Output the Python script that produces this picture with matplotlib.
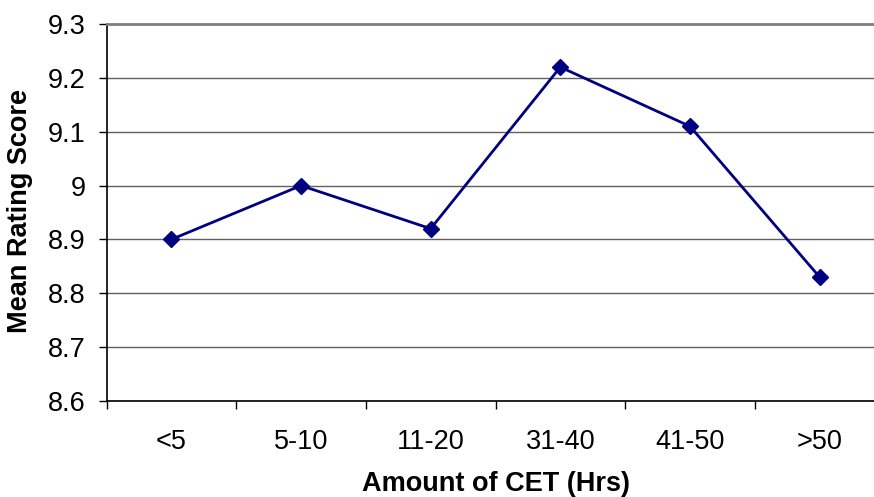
import matplotlib
matplotlib.use("Agg")
import matplotlib.pyplot as plt
import numpy as np

plt.rcParams["font.family"] = ["Liberation Sans", "DejaVu Sans"]

# ── Data ──────────────────────────────────────────────────────────────────────
categories = ["<5", "5-10", "11-20", "31-40", "41-50", ">50"]
scores = [8.90, 9.00, 8.92, 9.22, 9.11, 8.83]
y_ticks = [8.6, 8.7, 8.8, 8.9, 9.0, 9.1, 9.2, 9.3]
y_labels = ["8.6", "8.7", "8.8", "8.9", "9", "9.1", "9.2", "9.3"]

LINE_COLOR = "#000080"
GRID_COLOR = "#606060"

# ── Plot ──────────────────────────────────────────────────────────────────────
fig = plt.figure(figsize=(8.74, 4.97), dpi=100)
# plot area runs past the right edge of the picture, as in the original
ax = fig.add_axes([106.5 / 874, 96 / 497, 778 / 874, 377 / 497])

x = np.arange(len(categories))
ax.plot(x, scores, color=LINE_COLOR, lw=2.0, marker="D", ms=8.5,
        mfc=LINE_COLOR, mec=LINE_COLOR, zorder=3, clip_on=False)

ax.set_xlim(-0.5, len(categories) - 0.5)
ax.set_ylim(8.6, 9.3)

ax.set_yticks(y_ticks)
ax.set_yticklabels(y_labels)
ax.yaxis.grid(True, color=GRID_COLOR, lw=1.0)
ax.set_axisbelow(True)

# category boundaries get the tick marks, names sit in between
ax.set_xticks(np.arange(len(categories) + 1) - 0.5)
ax.set_xticklabels([])
ax.set_xticks(x, minor=True)
ax.set_xticklabels(categories, minor=True)
ax.tick_params(axis="x", which="major", direction="out", length=6, width=1, color="black")
ax.tick_params(axis="x", which="minor", length=0, pad=20, labelsize=19.5)
ax.tick_params(axis="y", direction="out", length=6, width=1, color="black", pad=9, labelsize=19.5)

ax.spines["top"].set_color("#808080")
ax.spines["top"].set_linewidth(2.0)
ax.spines["right"].set_visible(False)
ax.spines["left"].set_color("black")
ax.spines["bottom"].set_color("black")
ax.spines["left"].set_linewidth(1.2)
ax.spines["bottom"].set_linewidth(1.2)

fig.text(496 / 874, 1 - 484 / 497, "Amount of CET (Hrs)", ha="center", va="center",
         fontsize=19.5, fontweight="bold")
fig.text(20 / 874, 1 - 211 / 497, "Mean Rating Score", ha="center", va="center",
         rotation=90, fontsize=19.5, fontweight="bold")

fig.savefig("out.png", dpi=100)
plt.close(fig)
